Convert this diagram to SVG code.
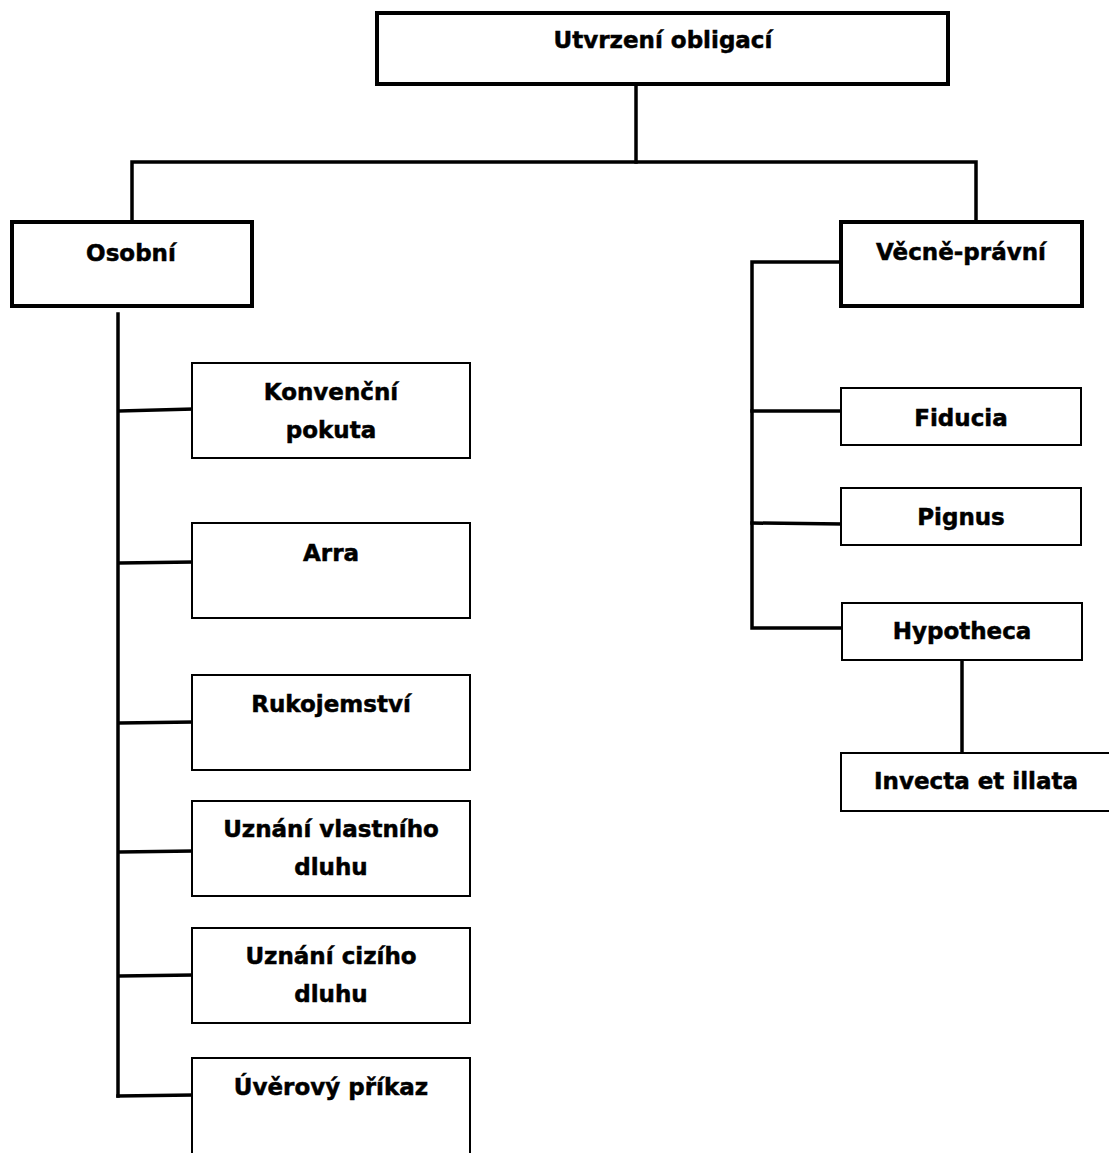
<svg xmlns="http://www.w3.org/2000/svg" width="1109" height="1153" viewBox="0 0 1109 1153">
<style>
.thick{fill:#fff;stroke:#000;stroke-width:4}
.thin{fill:#fff;stroke:#000;stroke-width:2}
.lbl{font-family:"DejaVu Sans",Verdana,sans-serif;font-weight:bold;font-size:23px;fill:#000;stroke:#000;stroke-width:0.5;text-anchor:middle}
.con{stroke:#000;stroke-width:3.5;fill:none;stroke-linecap:square}
</style>
<rect width="1109" height="1153" fill="#fff"/>
<g id="connectors">
<polyline class="con" points="636,86 636,162"/>
<polyline class="con" points="132,222 132,162 976,162 976,222"/>
<polyline class="con" points="118,314 118,1096"/>
<line class="con" x1="120" y1="411" x2="192" y2="409"/>
<line class="con" x1="120" y1="563" x2="192" y2="562"/>
<line class="con" x1="120" y1="723" x2="192" y2="722"/>
<line class="con" x1="120" y1="852" x2="192" y2="851"/>
<line class="con" x1="120" y1="976" x2="192" y2="975"/>
<line class="con" x1="118" y1="1096" x2="192" y2="1095"/>
<polyline class="con" points="842,262 752,262 752,628 842,628"/>
<line class="con" x1="752" y1="411" x2="841" y2="411"/>
<line class="con" x1="752" y1="523" x2="841" y2="524"/>
<line class="con" x1="962" y1="661" x2="962" y2="753"/>
</g>
<g id="n-root"><rect class="thick" x="377" y="13" width="571" height="71"/><text class="lbl" x="663" y="48">Utvrzení obligací</text></g>
<g id="n-osobni"><rect class="thick" x="12" y="222" width="240" height="84"/><text class="lbl" x="131" y="261">Osobní</text></g>
<g id="n-vecne"><rect class="thick" x="841" y="222" width="241" height="84"/><text class="lbl" x="961" y="260">Věcně-právní</text></g>
<g id="n-konv"><rect class="thin" x="192" y="363" width="278" height="95"/><text class="lbl" x="331" y="400">Konvenční</text><text class="lbl" x="331" y="438">pokuta</text></g>
<g id="n-arra"><rect class="thin" x="192" y="523" width="278" height="95"/><text class="lbl" x="331" y="561">Arra</text></g>
<g id="n-ruko"><rect class="thin" x="192" y="675" width="278" height="95"/><text class="lbl" x="331" y="712">Rukojemství</text></g>
<g id="n-uvlast"><rect class="thin" x="192" y="801" width="278" height="95"/><text class="lbl" x="331" y="837">Uznání vlastního</text><text class="lbl" x="331" y="875">dluhu</text></g>
<g id="n-ucizi"><rect class="thin" x="192" y="928" width="278" height="95"/><text class="lbl" x="331" y="964">Uznání cizího</text><text class="lbl" x="331" y="1002">dluhu</text></g>
<g id="n-uver"><rect class="thin" x="192" y="1058" width="278" height="100"/><text class="lbl" x="331" y="1095">Úvěrový příkaz</text></g>
<g id="n-fiducia"><rect class="thin" x="841" y="388" width="240" height="57"/><text class="lbl" x="961" y="426">Fiducia</text></g>
<g id="n-pignus"><rect class="thin" x="841" y="488" width="240" height="57"/><text class="lbl" x="961" y="525">Pignus</text></g>
<g id="n-hypo"><rect class="thin" x="842" y="603" width="240" height="57"/><text class="lbl" x="962" y="639">Hypotheca</text></g>
<g id="n-invecta"><rect class="thin" x="841" y="753" width="272" height="58"/><text class="lbl" x="976" y="789">Invecta et illata</text></g>
</svg>
